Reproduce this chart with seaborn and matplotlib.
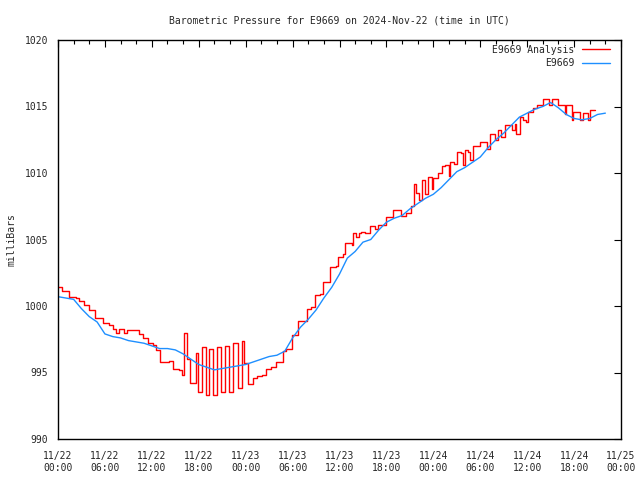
import numpy as np
import pandas as pd
import seaborn as sns
import matplotlib
matplotlib.use("Agg")
import matplotlib.pyplot as plt
import matplotlib.dates as mdates

start = pd.Timestamp("2024-11-22 00:00")

obs_hours = list(range(0, 71))
obs_mbar = [1000.7, 1000.6, 1000.5, 999.8, 999.2, 998.8, 997.9, 997.7, 997.6, 997.4,
            997.3, 997.2, 997.0, 996.8, 996.8, 996.7, 996.4, 996.0, 995.6, 995.4,
            995.2, 995.3, 995.4, 995.5, 995.6, 995.8, 996.0, 996.2, 996.3, 996.6,
            997.6, 998.4, 999.0, 999.7, 1000.6, 1001.4, 1002.4, 1003.6, 1004.1, 1004.8,
            1005.0, 1005.7, 1006.3, 1006.6, 1006.8, 1007.3, 1007.7, 1008.1, 1008.4, 1008.9,
            1009.5, 1010.1, 1010.4, 1010.8, 1011.2, 1011.9, 1012.5, 1013.0, 1013.6, 1014.2,
            1014.5, 1014.8, 1015.0, 1015.3, 1014.9, 1014.4, 1014.1, 1014.0, 1014.1, 1014.4,
            1014.5]

# E9669 Analysis
ana_hours = [0.0, 0.4, 0.5, 1.4, 2.3, 2.7, 3.3, 4.0, 4.7, 5.2, 5.5, 5.8, 6.5, 7.0, 7.4,
             7.8, 8.5, 8.8, 9.7, 10.0, 10.4, 10.9, 11.5, 12.2, 12.5, 13.0, 13.1, 14.2, 14.7,
             15.5, 15.8, 16.1, 16.5, 16.9, 17.6, 17.9, 18.4, 18.9, 19.3, 19.8, 20.3, 20.8,
             21.4, 21.9, 22.4, 23.0, 23.5, 23.8, 24.3, 25.0, 25.5, 26.1, 26.6, 27.3, 27.9,
             28.8, 29.1, 29.9, 30.6, 30.7, 31.3, 31.8, 32.4, 32.9, 33.5, 33.9, 34.6, 34.8,
             35.6, 35.8, 36.5, 36.7, 37.6, 37.7, 38.1, 38.5, 38.7, 39.3, 39.9, 40.5, 40.9,
             41.6, 42.0, 42.8, 43.5, 43.9, 44.5, 45.2, 45.5, 45.8, 46.2, 46.6, 46.9, 47.3,
             47.8, 48.0, 48.6, 49.1, 49.5, 50.0, 50.1, 50.6, 51.0, 51.6, 51.8, 52.0, 52.4,
             52.7, 53.1, 53.7, 54.0, 54.4, 54.8, 55.2, 55.9, 56.3, 56.7, 57.2, 57.8, 58.0,
             58.4, 58.6, 59.1, 59.5, 59.8, 60.1, 60.7, 61.2, 62.0, 62.5, 62.8, 63.2, 63.8,
             64.0, 64.6, 64.8, 65.0, 65.4, 65.7, 65.9, 66.5, 66.8, 67.1, 67.6, 67.8, 68.0,
             68.7]
ana_mbar = [1001.4, 1001.4, 1001.1, 1000.7, 1000.6, 1000.4, 1000.1, 999.7, 999.1, 999.1,
            999.1, 998.7, 998.6, 998.3, 998.0, 998.3, 998.0, 998.2, 998.2, 998.2, 997.9,
            997.6, 997.2, 997.1, 996.7, 996.6, 995.8, 995.9, 995.3, 995.2, 994.8, 998.0,
            996.0, 994.2, 996.5, 993.5, 996.9, 993.3, 996.8, 993.3, 996.9, 993.5, 997.0,
            993.5, 997.2, 993.8, 997.4, 995.7, 994.1, 994.6, 994.7, 994.8, 995.3, 995.4,
            995.8, 996.6, 996.8, 997.8, 997.8, 998.9, 998.9, 999.8, 999.9, 1000.8, 1000.9,
            1001.8, 1001.8, 1002.9, 1003.0, 1003.7, 1003.9, 1004.7, 1004.6, 1005.5, 1005.2,
            1005.5, 1005.6, 1005.5, 1006.0, 1005.8, 1006.1, 1006.1, 1006.7, 1007.2, 1007.2,
            1006.8, 1007.0, 1007.5, 1009.2, 1008.5, 1008.0, 1009.5, 1008.4, 1009.7, 1008.8,
            1009.6, 1010.0, 1010.5, 1010.6, 1009.8, 1010.8, 1010.7, 1011.6, 1011.5, 1010.6,
            1011.7, 1011.6, 1011.0, 1012.0, 1012.0, 1012.3, 1012.3, 1011.8, 1012.9, 1012.5,
            1013.2, 1012.7, 1013.6, 1013.6, 1013.2, 1013.7, 1012.9, 1014.2, 1014.0, 1013.8,
            1014.6, 1014.9, 1015.1, 1015.6, 1015.6, 1015.1, 1015.6, 1015.6, 1015.1, 1015.1,
            1014.4, 1015.1, 1015.1, 1014.0, 1014.6, 1014.6, 1014.0, 1014.5, 1014.5, 1014.0,
            1014.7, 1014.7]

obs = pd.DataFrame({"time": start + pd.to_timedelta(obs_hours, unit="h"), "mbar": obs_mbar})
ana = pd.DataFrame({"time": start + pd.to_timedelta(ana_hours, unit="h"), "mbar": ana_mbar})

sns.set_style("white")
plt.rcParams['font.family'] = ['DejaVu Sans Mono']
plt.rcParams['font.size'] = 7

fig = plt.figure(figsize=(6.4, 4.8), dpi=100)
ax = fig.add_axes([58/640, 1-439/480, (621-58)/640, (439-40)/480])

sns.lineplot(data=ana, x="time", y="mbar", ax=ax, color="#ff0000", lw=1.0,
             drawstyle="steps-post", label="E9669 Analysis")
sns.lineplot(data=obs, x="time", y="mbar", ax=ax, color="#1e8fff", lw=1.0, label="E9669")

ax.set_xlim(start, start + pd.Timedelta(hours=72))
ax.set_ylim(990, 1020)
ax.set_yticks(np.arange(990, 1021, 5))
ax.xaxis.set_major_locator(mdates.HourLocator(byhour=[0, 6, 12, 18]))
ax.xaxis.set_minor_locator(mdates.HourLocator(byhour=range(0, 24, 2)))
ax.xaxis.set_major_formatter(mdates.DateFormatter("%m/%d\n%H:%M"))
ax.tick_params(which="both", direction="in", top=True, right=True, color="black",
               labelsize=7)
ax.tick_params(which="major", length=5, width=0.8, pad=7)
ax.tick_params(which="minor", length=3, width=0.8)
ax.tick_params(axis="x", which="major", pad=9)
for s in ax.spines.values():
    s.set_color("black")
    s.set_linewidth(1.0)

ax.set_xlabel("")
ax.set_ylabel("milliBars", labelpad=6, fontsize=7)
ax.set_title("Barometric Pressure for E9669 on 2024-Nov-22 (time in UTC)",
             pad=12, fontsize=7)

ax.legend(loc="upper right", bbox_to_anchor=(1 - 4/563, 1 + 2/399), frameon=False,
          markerfirst=False, handlelength=2.9, borderaxespad=0.3, labelspacing=0.35,
          handletextpad=0.8, fontsize=7)

fig.savefig("out.png", dpi=100)
